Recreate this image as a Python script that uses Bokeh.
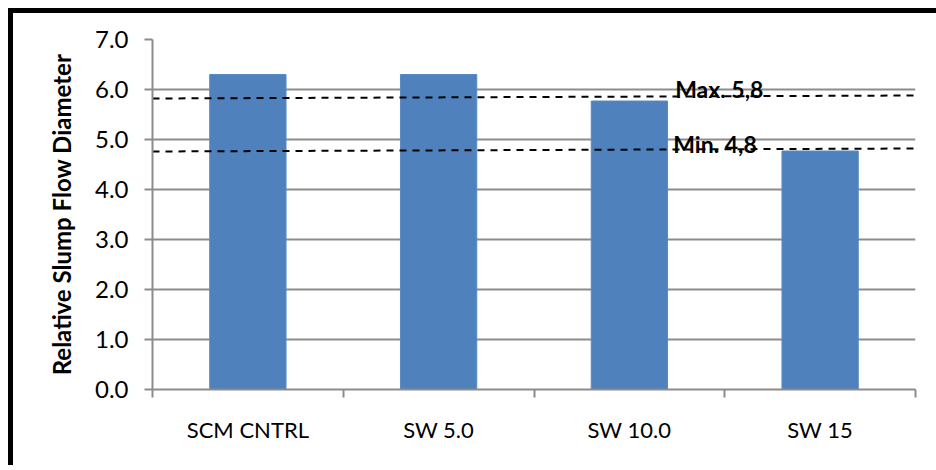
from bokeh.plotting import figure
from bokeh.models import Range1d, FixedTicker, LinearAxis, ColumnDataSource, Div
from bokeh.layouts import column, row
from bokeh.core.properties import value
from bokeh.embed import file_html
from bokeh.resources import INLINE

categories = ["SCM CNTRL", "SW 5.0", "SW 10.0", "SW 15"]
values = [6.3, 6.3, 5.77, 4.77]
y_ticks = [0, 1, 2, 3, 4, 5, 6, 7]
max_line_y = [5.82, 5.88]
min_line_y = [4.76, 4.82]
max_label = "Max. 5,8"
min_label = "Min. 4,8"

FONT = "Lato"
GRAY = "#8c8c8c"

xs = [i + 0.5 for i in range(len(categories))]
src = ColumnDataSource(dict(x=xs, top=values))

W, H, B = 918, 452, 5

p = figure(width=W, height=H, output_backend="svg", toolbar_location=None,
           x_range=Range1d(0, len(categories)), y_range=Range1d(0, 7),
           x_axis_type=None, min_border_left=139, min_border_right=16,
           min_border_top=26, min_border_bottom=76)
p.outline_line_color = None
p.background_fill_color = "white"
p.border_fill_color = "white"

p.vbar(x="x", top="top", width=0.4, bottom=0, source=src,
       fill_color="#4F81BD", line_color="#5a8ac4", line_width=1)

p.line([0, len(categories)], max_line_y, line_color="black", line_width=2, line_dash="7 6")
p.line([0, len(categories)], min_line_y, line_color="black", line_width=2, line_dash="7 6")
p.text(x=[2.74], y=[6.02], text=[max_label], text_font=value(FONT), text_font_size="23px",
       text_font_style="bold", text_color="black", text_baseline="alphabetic")
p.text(x=[2.73], y=[4.92], text=[min_label], text_font=value(FONT), text_font_size="23px",
       text_font_style="bold", text_color="black", text_baseline="alphabetic")

# y axis
yax = p.yaxis[0]
yax.ticker = FixedTicker(ticks=y_ticks, minor_ticks=[])
yax.major_label_overrides = {t: f"{t:.1f}" for t in y_ticks}
yax.axis_line_color = GRAY
yax.axis_line_width = 2
yax.major_tick_line_color = GRAY
yax.major_tick_line_width = 2
yax.major_tick_out = 8
yax.major_tick_in = 0
yax.minor_tick_line_color = None
yax.major_label_standoff = 16
yax.major_label_text_font = FONT
yax.major_label_text_font_size = "24px"
yax.major_label_text_color = "black"
yax.axis_label = "Relative Slump Flow Diameter"
yax.axis_label_text_font = FONT
yax.axis_label_text_font_size = "24px"
yax.axis_label_text_font_style = "bold"
yax.axis_label_text_color = "black"
yax.axis_label_standoff = 16

# x axis
xax = LinearAxis(ticker=FixedTicker(ticks=xs, minor_ticks=list(range(len(categories) + 1))))
xax.major_label_overrides = {x: c for x, c in zip(xs, categories)}
xax.axis_line_color = GRAY
xax.axis_line_width = 2
xax.major_tick_line_color = None
xax.major_tick_out = 0
xax.major_tick_in = 0
xax.minor_tick_line_color = GRAY
xax.minor_tick_line_width = 2
xax.minor_tick_out = 8
xax.minor_tick_in = 0
xax.major_label_standoff = 18
xax.major_label_text_font = FONT
xax.major_label_text_font_size = "22px"
xax.major_label_text_color = "black"
p.add_layout(xax, "below")

p.xgrid.grid_line_color = None
p.ygrid[0].ticker = FixedTicker(ticks=y_ticks)
p.ygrid.grid_line_color = GRAY
p.ygrid.grid_line_width = 2

top_bar = Div(width=928, height=B, margin=0, styles={"background-color": "black"})
left_bar = Div(width=B, height=H, margin=0, styles={"background-color": "black"})
layout = column(top_bar, row(left_bar, p, spacing=0), spacing=0, margin=(8, 0, 0, 8))

open("out.html", "w").write(file_html(layout, INLINE))
